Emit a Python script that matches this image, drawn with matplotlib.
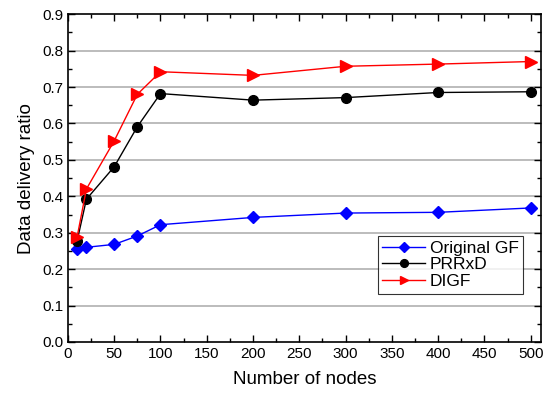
import matplotlib
matplotlib.use("Agg")
import matplotlib.pyplot as plt
from matplotlib.ticker import MultipleLocator

plt.rcParams['font.family'] = ['Liberation Sans', 'DejaVu Sans']

nodes = [10, 20, 50, 75, 100, 200, 300, 400, 500]
orig_gf = [0.254, 0.26, 0.268, 0.291, 0.322, 0.342, 0.354, 0.356, 0.368]
prrxd = [0.278, 0.392, 0.481, 0.591, 0.682, 0.664, 0.671, 0.685, 0.687]
digf = [0.289, 0.42, 0.552, 0.68, 0.742, 0.732, 0.757, 0.763, 0.770]

fig = plt.figure(figsize=(5.52, 3.94), dpi=100)
ax = fig.add_axes([0.123, 0.132, 0.857, 0.832])

for y in [0.1 * i for i in range(1, 9)]:
    ax.axhline(y, color='#b0b0b0', lw=1.2, zorder=0)

ax.plot(nodes, orig_gf, color='blue', marker='D', ms=6.5, lw=1, label='Original GF')
ax.plot(nodes, prrxd, color='black', marker='o', ms=7, lw=1, label='PRRxD')
ax.plot(nodes, digf, color='red', marker='>', ms=8, lw=1, label='DIGF')

ax.set_xlim(0, 511)
ax.set_ylim(0, 0.9)
ax.xaxis.set_major_locator(MultipleLocator(50))
ax.xaxis.set_minor_locator(MultipleLocator(25))
ax.yaxis.set_major_locator(MultipleLocator(0.1))
ax.yaxis.set_minor_locator(MultipleLocator(0.05))
ax.yaxis.set_major_formatter(plt.FormatStrFormatter('%.1f'))
ax.tick_params(which='both', direction='in', top=True, right=True, labelsize=11, width=1)
ax.tick_params(which='major', length=5)
ax.tick_params(which='minor', length=3)
for s in ax.spines.values():
    s.set_linewidth(1.2)

ax.set_xlabel('Number of nodes', fontsize=13.5, labelpad=7)
ax.set_ylabel('Data delivery ratio', fontsize=13.5, labelpad=5)

leg = ax.legend(loc='upper right', bbox_to_anchor=(0.962, 0.323), fontsize=12.5,
                frameon=True, fancybox=False, edgecolor='black', borderpad=0.25,
                labelspacing=0.1, handlelength=2.5, handletextpad=0.25, borderaxespad=0,
                markerscale=0.8)
leg.get_frame().set_linewidth(0.8)

fig.savefig('out.png', dpi=100)
